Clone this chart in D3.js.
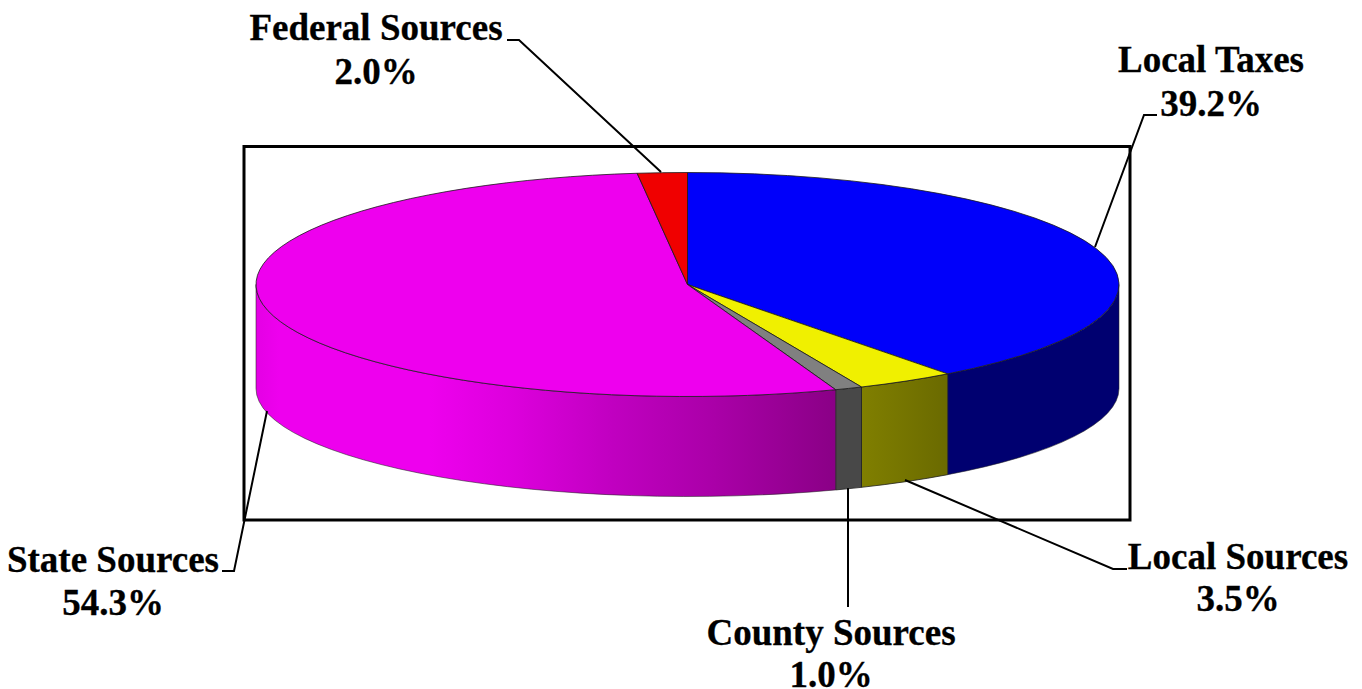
<!DOCTYPE html>
<html><head><meta charset="utf-8">
<style>html,body{margin:0;padding:0;background:#fff;overflow:hidden}svg{display:block}
text{font-family:"Liberation Serif",serif;font-weight:bold;font-size:37px;fill:#000;stroke:#000;stroke-width:.3;text-anchor:middle}</style>
<script src="https://cdn.jsdelivr.net/npm/d3@7/dist/d3.min.js"></script>
</head><body><svg id="c" width="1362" height="689"></svg>
<script>
const categories = ["Local Taxes","Local Sources","County Sources","State Sources","Federal Sources"];
const shares = [39.2,3.5,1.0,54.3,2.0];
const topColors = ["#0000fa","#f0f000","#808080","#ee00ee","#f00000"];
const sideStart = ["#000070","#807f00","#484848","#ee00ee","#a00000"];
const sideEnd   = ["#000070","#6a6a00","#484848","#880080","#a00000"];

// Layout (not data)
const G = {cx:687.5, cy:284.5, rx:431.5, ry:112, by:388.5, bry:108};
const box = {x:244, y:146.5, w:886, h:373.5};
const labels = [
  {cx:1211,y1:72, y2:116, line:[[1095,247],[1144,115],[1157,115]]},
  {cx:1238,y1:569,y2:611, line:[[905,480],[1113,569],[1127,569]]},
  {cx:831, y1:645,y2:687, line:[[848,488],[848,607]]},
  {cx:113, y1:572,y2:615, line:[[267,411],[234,571],[222,571]]},
  {cx:376, y1:40, y2:84,  line:[[661,172],[519,40],[507,40]]}
];

// perspective warp of pie angle -> on-screen ellipse angle (degrees)
const warp = d3.scaleLinear()
  .domain([0,90,141.1,153.7,157.3,270,352.8,360])
  .range([0,90,142.9,156.2,159.9,270,353.3,360]);

const pie = d3.pie().sort(null).value(d=>d).startAngle(0).endAngle(2*Math.PI);
const arcs = pie(shares).map((d,i)=>({i,
  a0:warp(d.startAngle*180/Math.PI), a1:warp(d.endAngle*180/Math.PI)}));

const rad = a=>a*Math.PI/180;
const px = a=>G.cx+G.rx*Math.sin(rad(a));
const ptop = a=>[px(a),G.cy-G.ry*Math.cos(rad(a))];
const pbot = a=>[px(a),G.by-G.bry*Math.cos(rad(a))];

const svg = d3.select("#c");
const defs = svg.append("defs");

svg.append("rect").attr("x",box.x).attr("y",box.y).attr("width",box.w).attr("height",box.h)
  .attr("fill","none").attr("stroke","#000").attr("stroke-width",3);

// sides
arcs.forEach(s=>{
  const a0=Math.max(s.a0,90), a1=Math.min(s.a1,270);
  if(a1<=a0) return;
  const id="side"+s.i;
  const g=defs.append("linearGradient").attr("id",id).attr("gradientUnits","userSpaceOnUse");
  if(s.i===3){
    g.attr("x1",px(a1)).attr("x2",px(a0)).attr("y1",0).attr("y2",0);
    [[0,"#e400e4"],[0.04,"#ee00ee"],[0.3,"#ee00ee"],[0.444,"#dc00dc"],[0.617,"#c000c0"],[0.79,"#aa00a8"],[1,"#8a0086"]]
      .forEach(([o,c])=>g.append("stop").attr("offset",o).attr("stop-color",c));
  } else {
    g.attr("x1",px(a0)).attr("x2",px(a1)).attr("y1",0).attr("y2",0);
    g.append("stop").attr("offset",0).attr("stop-color",sideEnd[s.i]);
    g.append("stop").attr("offset",1).attr("stop-color",sideStart[s.i]);
  }
  const [x0,y0]=ptop(a0),[x1,y1]=ptop(a1),[x2,y2]=pbot(a1),[x3,y3]=pbot(a0);
  svg.append("path")
    .attr("d",`M${x0},${y0}A${G.rx},${G.ry} 0 0 1 ${x1},${y1}L${x2},${y2}A${G.rx},${G.bry} 0 0 0 ${x3},${y3}Z`)
    .attr("fill",`url(#${id})`).attr("stroke","#222").attr("stroke-width",1).attr("stroke-opacity",s.i===3||s.i===0?0.55:0.8);
});

// top face
arcs.forEach(s=>{
  const [x0,y0]=ptop(s.a0),[x1,y1]=ptop(s.a1);
  const large=(s.a1-s.a0)>180?1:0;
  svg.append("path")
    .attr("d",`M${G.cx},${G.cy}L${x0},${y0}A${G.rx},${G.ry} 0 ${large} 1 ${x1},${y1}Z`)
    .attr("fill",topColors[s.i]).attr("stroke","#1a1a1a").attr("stroke-opacity",0.8).attr("stroke-width",1).attr("stroke-linejoin","round");
});

// leaders + labels
const line=d3.line();
labels.forEach((l,i)=>{
  svg.append("path").attr("d",line(l.line)).attr("fill","none").attr("stroke","#000").attr("stroke-width",2);
  svg.append("text").attr("x",l.cx).attr("y",l.y1).text(categories[i]);
  svg.append("text").attr("x",l.cx).attr("y",l.y2).text(d3.format(".1f")(shares[i])+"%");
});
</script></body></html>
